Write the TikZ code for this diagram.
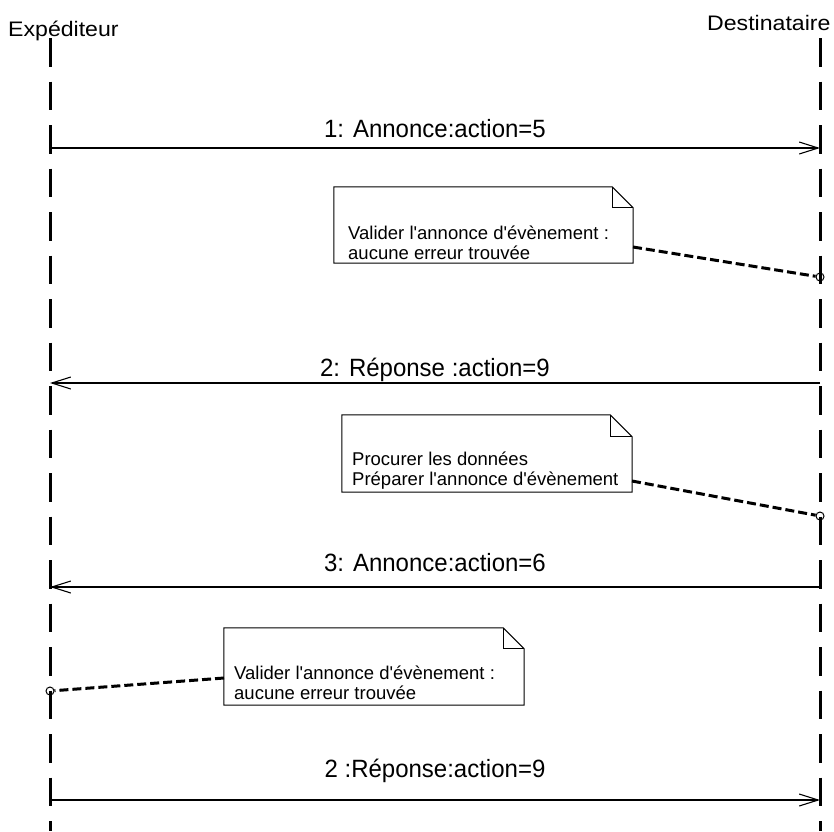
\documentclass[tikz,border=0pt]{standalone}
\usepackage{fontspec}
\setmainfont{Liberation Sans}
\usetikzlibrary{arrows.meta}
\newcommand\msgfont{\fontsize{25}{30}\selectfont}
\newcommand\notefont{\fontsize{18.5}{20}\selectfont}
\newcommand\headfont{\fontsize{21}{24}\selectfont}
\newcommand\apos{\textquotesingle}
\newcommand\msgtxt[1]{\scalebox{0.96}[1]{#1}}
\begin{document}
\begin{tikzpicture}[x=1pt,y=-1pt,
  lifeline/.style={line width=3pt, dash pattern=on 28.5pt off 15pt},
  msg/.style={line width=1.1pt, -{Straight Barb[length=19pt,width=12pt,line width=1.1pt]}},
  msglabel/.style={anchor=base, inner sep=0pt, font=\msgfont},
  notebox/.style={draw=none, inner sep=0pt},
  noteline/.style={line width=1pt},
  notetext/.style={anchor=base west, inner sep=0pt, align=left, font=\notefont},
  anchorline/.style={line width=3pt, dash pattern=on 9pt off 4pt},
  pin/.style={circle, draw, line width=1pt, inner sep=0pt, minimum size=8pt},
  head/.style={anchor=base west, inner sep=0pt, font=\headfont}]
\useasboundingbox (0,0) rectangle (834,831);

% lifeline heads
\node[head] (exp) at (8,36) {\scalebox{1.1}[1]{Expéditeur}};
\node[head] (dest) at (707,30) {\scalebox{1.1}[1]{Destinataire}};

% lifelines
\coordinate (LT) at (50,38);
\coordinate (LB) at (50,831);
\coordinate (RT) at (820,38);
\coordinate (RB) at (820,831);
\draw[lifeline] (LT) -- (LB);
\draw[lifeline] (RT) -- (RB);

% messages
\coordinate (m1L) at (50,148);  \coordinate (m1R) at (820,148);
\coordinate (m2L) at (50,383);  \coordinate (m2R) at (820,383);
\coordinate (m3L) at (50,587);  \coordinate (m3R) at (820,587);
\coordinate (m4L) at (50,800);  \coordinate (m4R) at (820,800);
\draw[msg] (m1L) -- (m1R);
\draw[msg] (m2R) -- (m2L);
\draw[msg] (m3R) -- (m3L);
\draw[msg] (m4L) -- (m4R);
\node[msglabel] (l1) at (435,137) {\msgtxt{1: Annonce:action=5}};
\node[msglabel] (l2) at (435,376) {\msgtxt{2: Réponse :action=9}};
\node[msglabel] (l3) at (435,571) {\msgtxt{3: Annonce:action=6}};
\node[msglabel] (l4) at (435,777) {\msgtxt{2 :Réponse:action=9}};

% note 1
\node[notebox, minimum width=299pt, minimum height=76pt] (n1) at (483.5,225) {};
\draw[noteline] (n1.north west) -- ([xshift=-21pt]n1.north east) -- ([yshift=-21pt]n1.north east) -- (n1.south east) -- (n1.south west) -- cycle;
\draw[noteline] ([xshift=-21pt]n1.north east) |- ([yshift=-21pt]n1.north east);
\node[notetext] (n1t) at (348,259.5) {Valider l\apos annonce d\apos évènement :\\aucune erreur trouvée};
\coordinate (n1c) at (633,247);
\node[pin] (p1) at (820,277) {};
\draw[anchorline] (n1c) -- (p1);

% note 2
\node[notebox, minimum width=290pt, minimum height=77pt] (n2) at (487,453.5) {};
\draw[noteline] (n2.north west) -- ([xshift=-22pt]n2.north east) -- ([yshift=-22pt]n2.north east) -- (n2.south east) -- (n2.south west) -- cycle;
\draw[noteline] ([xshift=-22pt]n2.north east) |- ([yshift=-22pt]n2.north east);
\node[notetext] (n2t) at (352,485.5) {Procurer les données\\Préparer l\apos annonce d\apos évènement};
\coordinate (n2c) at (632,481);
\node[pin] (p2) at (820,516) {};
\draw[anchorline] (n2c) -- (p2);

% note 3
\node[notebox, minimum width=300pt, minimum height=77pt] (n3) at (374,666.5) {};
\draw[noteline] (n3.north west) -- ([xshift=-21pt]n3.north east) -- ([yshift=-21pt]n3.north east) -- (n3.south east) -- (n3.south west) -- cycle;
\draw[noteline] ([xshift=-21pt]n3.north east) |- ([yshift=-21pt]n3.north east);
\node[notetext] (n3t) at (234,699.5) {Valider l\apos annonce d\apos évènement :\\aucune erreur trouvée};
\coordinate (n3c) at (224,678);
\node[pin] (p3) at (50,691) {};
\draw[anchorline] (n3c) -- (p3);
\end{tikzpicture}
\end{document}
